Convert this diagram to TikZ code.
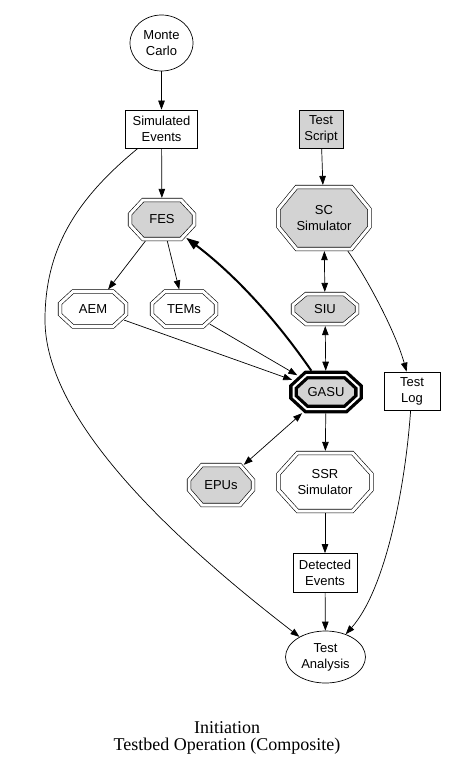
\documentclass[tikz,border=0pt]{standalone}
\usepackage{fontspec}
\setmainfont{Liberation Serif}
\setsansfont{Liberation Sans}
\usetikzlibrary{arrows.meta, shapes.geometric}
\definecolor{unitgrey}{RGB}{211,211,211}

\makeatletter
\pgfkeys{/pgf/octo cut x/.initial=10pt, /pgf/octo cut y/.initial=10pt}
\pgfdeclareshape{octagonbox}{%
  \inheritsavedanchors[from=rectangle]%
  \inheritanchor[from=rectangle]{center}%
  \inheritanchor[from=rectangle]{north}%
  \inheritanchor[from=rectangle]{south}%
  \inheritanchor[from=rectangle]{east}%
  \inheritanchor[from=rectangle]{west}%
  \inheritanchor[from=rectangle]{text}%
  \inheritanchor[from=rectangle]{base}%
  \inheritanchor[from=rectangle]{mid}%
  \saveddimen\cutx{\pgfmathsetlength\pgf@x{\pgfkeysvalueof{/pgf/octo cut x}}}%
  \saveddimen\cuty{\pgfmathsetlength\pgf@x{\pgfkeysvalueof{/pgf/octo cut y}}}%
  \backgroundpath{%
    \southwest \pgf@xa=\pgf@x \pgf@ya=\pgf@y
    \northeast \pgf@xb=\pgf@x \pgf@yb=\pgf@y
    \pgfmathsetlength\pgf@xc{\pgfkeysvalueof{/pgf/outer xsep}}%
    \pgfmathsetlength\pgf@yc{\pgfkeysvalueof{/pgf/outer ysep}}%
    \advance\pgf@xa by\pgf@xc \advance\pgf@xb by-\pgf@xc
    \advance\pgf@ya by\pgf@yc \advance\pgf@yb by-\pgf@yc
    \edef\oct@l{\the\pgf@xa}\edef\oct@r{\the\pgf@xb}%
    \edef\oct@b{\the\pgf@ya}\edef\oct@t{\the\pgf@yb}%
    \edef\oct@cx{\cutx}\edef\oct@cy{\cuty}%
    \pgfpathmoveto{\pgfpoint{\oct@l+\oct@cx}{\oct@t}}%
    \pgfpathlineto{\pgfpoint{\oct@r-\oct@cx}{\oct@t}}%
    \pgfpathlineto{\pgfpoint{\oct@r}{\oct@t-\oct@cy}}%
    \pgfpathlineto{\pgfpoint{\oct@r}{\oct@b+\oct@cy}}%
    \pgfpathlineto{\pgfpoint{\oct@r-\oct@cx}{\oct@b}}%
    \pgfpathlineto{\pgfpoint{\oct@l+\oct@cx}{\oct@b}}%
    \pgfpathlineto{\pgfpoint{\oct@l}{\oct@b+\oct@cy}}%
    \pgfpathlineto{\pgfpoint{\oct@l}{\oct@t-\oct@cy}}%
    \pgfpathclose
  }%
  \anchorborder{%
    \edef\oct@dx{\pgf@sys@tonumber\pgf@x}%
    \edef\oct@dy{\pgf@sys@tonumber\pgf@y}%
    \southwest \pgf@xa=\pgf@x \pgf@ya=\pgf@y
    \northeast \pgf@xb=\pgf@x \pgf@yb=\pgf@y
    \pgf@xc=.5\pgf@xa \advance\pgf@xc by.5\pgf@xb
    \pgf@yc=.5\pgf@ya \advance\pgf@yc by.5\pgf@yb
    \edef\oct@mx{\pgf@sys@tonumber\pgf@xc}%
    \edef\oct@my{\pgf@sys@tonumber\pgf@yc}%
    \advance\pgf@xb by-\pgf@xc \advance\pgf@yb by-\pgf@yc
    \edef\oct@a{\pgf@sys@tonumber\pgf@xb}%
    \edef\oct@h{\pgf@sys@tonumber\pgf@yb}%
    \pgf@xa=\cutx \pgf@ya=\cuty
    \edef\oct@cx{\pgf@sys@tonumber\pgf@xa}%
    \edef\oct@cy{\pgf@sys@tonumber\pgf@ya}%
    \pgfmathparse{max(abs(\oct@dx)/\oct@a, abs(\oct@dy)/\oct@h,
      (abs(\oct@dx)/\oct@cx+abs(\oct@dy)/\oct@cy)/(\oct@a/\oct@cx+\oct@h/\oct@cy-1))}%
    \let\oct@s\pgfmathresult
    \pgfmathsetlength\pgf@xa{\oct@mx+(\oct@dx)/\oct@s}%
    \pgfmathsetlength\pgf@ya{\oct@my+(\oct@dy)/\oct@s}%
    \pgf@x=\pgf@xa \pgf@y=\pgf@ya
  }%
}
\makeatother

\begin{document}
\begin{tikzpicture}[
    x=1pt, y=-1pt,
    >={Triangle[length=9pt, width=6.5pt]},
    every node/.style={font=\sffamily\fontsize{13}{16}\selectfont, align=center, inner sep=1pt},
    proc/.style={draw, line width=0.7pt, minimum height=38pt},
    blob/.style={ellipse, draw, line width=0.7pt},
    octo/.style={shape=octagonbox, draw, line width=0.6pt, double, double distance=3pt, outer sep=2.1pt},
    hub/.style={shape=octagonbox, draw, fill=unitgrey, line width=3.3pt, double, double distance=2pt, outer sep=4.3pt},
    dims/.style n args={4}{minimum width=#1, minimum height=#2, octo cut x=#3, octo cut y=#4},
    hw/.style={fill=unitgrey},
    link/.style={->, line width=0.7pt},
    duplex/.style={<->, line width=0.7pt},
    caption/.style={font=\rmfamily\fontsize{18}{17}\selectfont}
  ]
    \useasboundingbox (0,0) rectangle (448,773);

    \node[blob, minimum width=63pt, minimum height=56pt] (monte) at (161.5,43) {Monte\\Carlo};
    \node[proc, minimum width=72pt] (simev) at (161.5,129) {Simulated\\Events};
    \node[proc, hw, minimum width=44pt] (script) at (321,129) {Test\\Script};
    \node[octo, hw, dims={64pt}{39pt}{13pt}{14pt}] (fes) at (162,219.5) {FES};
    \node[octo, hw, dims={91pt}{62pt}{18pt}{22pt}] (scsim) at (324,218) {SC\\Simulator};
    \node[octo, dims={66pt}{35pt}{13pt}{12pt}] (aem) at (93,309) {AEM};
    \node[octo, dims={64pt}{35pt}{13pt}{12pt}] (tems) at (184,309) {TEMs};
    \node[octo, hw, dims={64pt}{30pt}{13pt}{11pt}] (siu) at (325,309) {SIU};
    \node[hub, dims={65pt}{34pt}{13pt}{12pt}] (gasu) at (326,392) {GASU};
    \node[proc, minimum width=56pt] (testlog) at (412,391) {Test\\Log};
    \node[octo, hw, dims={64pt}{40pt}{13pt}{15pt}] (epus) at (221,485) {EPUs};
    \node[octo, dims={93pt}{58pt}{19pt}{21pt}] (ssr) at (325,482) {SSR\\Simulator};
    \node[proc, minimum width=64pt, minimum height=39pt] (detev) at (325,573) {Detected\\Events};
    \node[blob, minimum width=80pt, minimum height=52pt] (ta) at (325.5,657) {Test\\Analysis};
    \node[caption] (title) at (227,738) {Initiation\\Testbed Operation (Composite)};

    \draw[link] (monte) -- (simev);
    \draw[link] (simev) -- (fes);
    \draw[link] (simev) .. controls (75,200) and (45,250) .. (45,320)
                        .. controls (45,430) and (200,560) .. (ta);
    \draw[link] (script) -- (scsim);
    \draw[duplex] (scsim) -- (siu);
    \draw[link] (scsim) .. controls (365,275) and (395,330) .. (testlog);
    \draw[link] (fes) -- (aem);
    \draw[link] (fes) -- (tems);
    \draw[link] (aem) -- (gasu);
    \draw[link] (tems) -- (gasu);
    \draw[->, >={Triangle[length=13pt, width=9pt]}, line width=2pt]
        (gasu) .. controls (275,318) and (234,274) .. (fes);
    \draw[duplex] (siu) -- (gasu);
    \draw[duplex] (gasu) -- (epus);
    \draw[link] (gasu) -- (ssr);
    \draw[link] (ssr) -- (detev);
    \draw[link] (detev) -- (ta);
    \draw[link] (testlog) .. controls (405,490) and (385,590) .. (ta);
  \end{tikzpicture}
\end{document}
